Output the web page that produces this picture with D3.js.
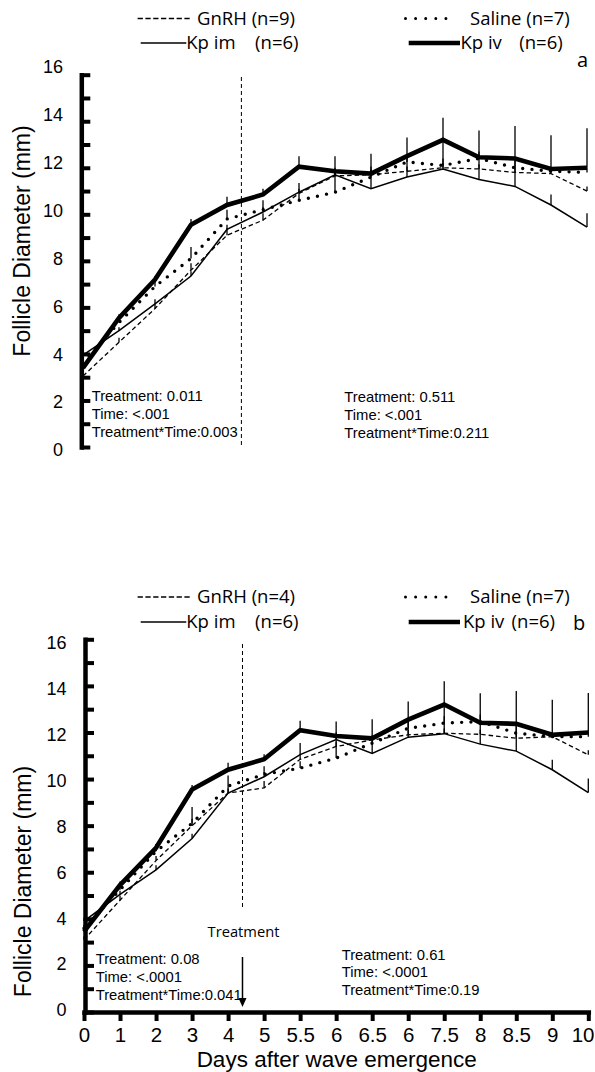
<!DOCTYPE html>
<html><head><meta charset="utf-8">
<script src="https://cdn.jsdelivr.net/npm/d3@7"></script>
<style>body{margin:0;background:#fff} svg{display:block}</style>
</head><body>
<script>
// ---------- data ----------
const xLabels = ["0","1","2","3","4","5","5.5","6","6.5","6","7.5","8","8.5","9","10"];
const yTickVals = d3.range(0, 17);
const yLabelVals = [0, 2, 4, 6, 8, 10, 12, 14, 16];
const treatmentDay = 4.4; // position on the index axis

// panel a
const gnrhA   = [3.05, 4.5, 5.95, 7.6, 9.1, 9.75, 10.9, 11.65, 11.7, 11.85, 12.0, 11.95, 11.8, 11.75, 11.0];
const salineA = [3.6, 5.35, 6.9, 8.1, 9.8, 10.2, 10.6, 10.95, 11.6, 12.25, 12.1, 12.4, 12.0, 11.85, 11.8];
const kpimA   = [3.95, 5.0, 6.15, 7.35, 9.35, 10.1, 10.95, 11.7, 11.1, 11.6, 11.95, 11.5, 11.2, 10.4, 9.45];
const kpivA   = [3.4, 5.55, 7.2, 9.55, 10.4, 10.85, 12.05, 11.85, 11.75, 12.5, 13.2, 12.45, 12.4, 11.95, 12.0];
const gnrhErrA   = [0.15, 0.2, 0.2, 0.3, 0.3, 0.3, 0.2, 0.2, 0.2, 0.2, 0.2, 0.2, 0.2, 0.2, 0.2];
const salineErrA = [0.15, 0.2, 0.35, 0.5, 0.4, 0.4, 0.3, 0.9, 0.3, 0.3, 0.3, 0.3, 0.3, 0.15, 0.2];
const kpimErrA   = [0.15, 0.15, 0.2, 0.2, 0.2, 0.2, 0.4, 0.3, 0.95, 0.9, 1.25, 0.95, 1.2, 0.45, 0.6];
const kpivErrA   = [0.15, 0.15, 0.15, 0.25, 0.35, 0.25, 0.45, 0.65, 0.85, 0.8, 0.95, 1.15, 1.4, 1.45, 1.7];
const legendA = ["GnRH (n=9)", "Saline (n=7)", "Kp im", "(n=6)", "Kp iv", "(n=6)"];
const statsALeft  = ["Treatment: 0.011", "Time: <.001", "Treatment*Time:0.003"];
const statsARight = ["Treatment: 0.511", "Time: <.001", "Treatment*Time:0.211"];

// panel b
const gnrhB   = [3.1, 4.8, 6.5, 8.0, 9.4, 9.62, 10.85, 11.4, 11.68, 11.9, 11.97, 11.92, 11.75, 11.82, 11.04];
const salineB = [3.6, 5.25, 6.9, 8.1, 9.7, 10.2, 10.47, 10.9, 11.54, 12.18, 12.4, 12.47, 11.97, 11.82, 11.82];
const kpimB   = [3.9, 5.05, 6.1, 7.45, 9.4, 10.1, 11.05, 11.7, 11.1, 11.8, 11.95, 11.5, 11.2, 10.4, 9.42];
const kpivB   = [3.45, 5.45, 7.05, 9.55, 10.4, 10.85, 12.1, 11.85, 11.75, 12.55, 13.2, 12.42, 12.37, 11.9, 12.0];
const gnrhErrB   = [0.15, 0.2, 0.2, 0.3, 0.3, 0.3, 0.2, 0.2, 0.2, 0.2, 0.2, 0.2, 0.2, 0.2, 0.2];
const salineErrB = [0.15, 0.2, 0.3, 0.7, 0.45, 0.35, 0.3, 0.9, 0.3, 0.3, 0.3, 0.3, 0.3, 0.15, 0.2];
const kpimErrB   = [0.15, 0.15, 0.2, 0.2, 0.2, 0.2, 0.5, 0.3, 0.65, 0.75, 1.25, 0.92, 1.17, 0.43, 0.6];
const kpivErrB   = [0.15, 0.15, 0.15, 0.2, 0.3, 0.22, 0.4, 0.62, 0.82, 0.78, 1.0, 1.26, 1.41, 1.5, 1.7];
const legendB = ["GnRH (n=4)", "Saline (n=7)", "Kp im", "(n=6)", "Kp iv", "(n=6)"];
const statsBLeft  = ["Treatment: 0.08", "Time: <.0001", "Treatment*Time:0.041"];
const statsBRight = ["Treatment: 0.61", "Time: <.0001", "Treatment*Time:0.19"];

const yTitle = "Follicle Diameter (mm)";
const xTitle = "Days after wave emergence";
const treatmentLabel = "Treatment";

// ---------- drawing ----------
const W = 595, H = 1072;
const svg = d3.select("body").append("svg").attr("width", W).attr("height", H);
const SANS = "'Liberation Sans', Arial, sans-serif";
const OPEN = "'Open Sans', 'Noto Sans', sans-serif";

const styles = {
  gnrh:   {w: 1.3, dash: "4.5 3", cap: "butt"},
  saline: {w: 3.4, dash: "0 9.3", cap: "round"},
  kpim:   {w: 1.5, dash: null, cap: "butt"},
  kpiv:   {w: 4.6, dash: null, cap: "butt"}
};

function drawPanel(c) {
  const g = svg.append("g");
  const x = d3.scaleLinear().domain([0, xLabels.length - 1]).range([c.x0, c.x1]);
  const y = d3.scaleLinear().domain([0, 16]).range([c.yBot, c.yTop]);
  const yLab = d3.scaleLinear().domain([0, 16]).range([c.labBot, c.labTop]);

  // y axis ticks (pointing inward)
  const ya = g.append("g").attr("transform", `translate(${c.axisX},0)`)
    .call(d3.axisRight(y).tickValues(yTickVals).tickSize(9).tickSizeOuter(0).tickFormat(""));
  ya.select(".domain").attr("stroke", "#000").attr("stroke-width", 4.5).attr("stroke-linecap", "square");
  ya.selectAll(".tick line").attr("stroke", "#000").attr("stroke-width", 4);

  // y tick labels
  const yl = g.append("g").attr("transform", `translate(${c.labRight},0)`)
    .call(d3.axisLeft(yLab).tickValues(yLabelVals).tickSize(0).tickPadding(0).tickFormat(d3.format("d")));
  yl.select(".domain").remove();
  yl.selectAll("text").attr("font-family", SANS).attr("font-size", 18).attr("fill", "#000");

  // x axis (panel b only)
  if (c.showX) {
    const xa = g.append("g").attr("transform", `translate(0,${c.yBot})`)
      .call(d3.axisBottom(x).tickValues(d3.range(xLabels.length)).tickSize(9).tickSizeOuter(0)
        .tickPadding(6).tickFormat(i => xLabels[i]));
    xa.select(".domain").attr("stroke", "#000").attr("stroke-width", 4.5).attr("stroke-linecap", "square");
    xa.selectAll(".tick line").attr("stroke", "#000").attr("stroke-width", 4);
    xa.selectAll("text").attr("font-family", SANS).attr("font-size", 20.5).attr("fill", "#000");
    // keep the last label inside the page
    xa.selectAll(".tick").filter(i => i === xLabels.length - 1).select("text")
      .attr("text-anchor", "end").attr("dx", W - 1 - x(xLabels.length - 1));
    g.append("text").attr("x", 336.7).attr("y", 1067).attr("text-anchor", "middle")
      .attr("font-family", SANS).attr("font-size", 22.5).text(xTitle);
  }

  // y title
  g.append("text").attr("transform", `translate(${c.titleX},${c.titleY}) rotate(-90)`)
    .attr("text-anchor", "middle").attr("font-family", SANS).attr("font-size", 23).text(yTitle);

  // treatment line
  g.append("line").attr("x1", x(treatmentDay)).attr("x2", x(treatmentDay))
    .attr("y1", c.tlTop).attr("y2", c.tlBot)
    .attr("stroke", "#000").attr("stroke-width", 1).attr("stroke-dasharray", "4 3");

  // series
  const series = [
    {key: "gnrh", v: c.gnrh, e: c.gnrhErr},
    {key: "saline", v: c.saline, e: c.salineErr},
    {key: "kpim", v: c.kpim, e: c.kpimErr},
    {key: "kpiv", v: c.kpiv, e: c.kpivErr}
  ];
  // error bars
  series.forEach(s => {
    g.append("g").selectAll("line").data(s.v).join("line")
      .attr("x1", (d, i) => x(i)).attr("x2", (d, i) => x(i))
      .attr("y1", d => y(d)).attr("y2", (d, i) => y(d + s.e[i]))
      .attr("stroke", "#000").attr("stroke-width", 1.3);
  });
  const line = d3.line().x((d, i) => x(i)).y(d => y(d));
  series.forEach(s => {
    const st = styles[s.key];
    g.append("path").datum(s.v).attr("d", line).attr("fill", "none")
      .attr("stroke", "#000").attr("stroke-width", st.w)
      .attr("stroke-linejoin", "miter")
      .attr("stroke-linecap", st.cap)
      .attr("stroke-dasharray", st.dash);
  });

  // legend
  const L = c.leg, r1 = c.legY1, r2 = c.legY2;
  const lg = g.append("g");
  lg.append("line").attr("x1", 137.6).attr("x2", 192).attr("y1", r1).attr("y2", r1)
    .attr("stroke", "#000").attr("stroke-width", 1.3).attr("stroke-dasharray", "5.3 2.5");
  lg.append("text").attr("x", 197).attr("y", r1 + 6.3).text(L[0]);
  lg.append("line").attr("x1", 405.5).attr("x2", 456).attr("y1", r1).attr("y2", r1)
    .attr("stroke", "#000").attr("stroke-width", 3).attr("stroke-linecap", "round").attr("stroke-dasharray", "0 10.1");
  lg.append("text").attr("x", 470).attr("y", r1 + 6.3).text(L[1]);
  lg.append("line").attr("x1", 140.7).attr("x2", 186.3).attr("y1", r2).attr("y2", r2)
    .attr("stroke", "#000").attr("stroke-width", 1.5);
  lg.append("text").attr("x", 186.3).attr("y", r2 + 6.3).text(L[2]);
  lg.append("text").attr("x", 298.5).attr("y", r2 + 6.3).attr("text-anchor", "end").text(L[3]);
  lg.append("line").attr("x1", 408.7).attr("x2", 460).attr("y1", r2).attr("y2", r2)
    .attr("stroke", "#000").attr("stroke-width", 4.5);
  lg.append("text").attr("x", c.kpivX).attr("y", r2 + 6.3).text(L[4]);
  lg.append("text").attr("x", c.kpivNEnd).attr("y", r2 + 6.3).attr("text-anchor", "end").text(L[5]);
  lg.selectAll("text").attr("font-family", OPEN).attr("font-size", 18.5).attr("fill", "#000");

  // panel letter
  g.append("text").attr("x", c.letterX).attr("y", c.letterY).attr("font-family", OPEN)
    .attr("font-size", 20).text(c.letter);

  // stats
  const st = g.append("g").attr("font-family", SANS).attr("font-size", 14.8);
  c.statsL.forEach((t, i) => st.append("text").attr("x", c.sLx).attr("y", c.sLy[i]).text(t));
  c.statsR.forEach((t, i) => st.append("text").attr("x", c.sRx).attr("y", c.sRy[i]).text(t));
  return {x, y, g};
}

drawPanel({
  x0: 83, x1: 587, yBot: 447, yTop: 74.7, labBot: 450, labTop: 67, axisX: 81.3, labRight: 63,
  showX: false, titleX: 30, titleY: 241, tlTop: 77, tlBot: 445,
  gnrh: gnrhA, saline: salineA, kpim: kpimA, kpiv: kpivA,
  gnrhErr: gnrhErrA, salineErr: salineErrA, kpimErr: kpimErrA, kpivErr: kpivErrA,
  leg: legendA, legY1: 18.5, legY2: 43, kpivX: 460.5, kpivNEnd: 562.7,
  letter: "a", letterX: 577, letterY: 67,
  statsL: statsALeft, statsR: statsARight, sLx: 91.7, sLy: [401, 418.5, 437], sRx: 344.3, sRy: [402, 419.5, 438]
});

const pb = drawPanel({
  x0: 84, x1: 588.3, yBot: 1012, yTop: 639.3, labBot: 1010, labTop: 643, axisX: 85, labRight: 66.5,
  showX: true, titleX: 31, titleY: 881.5, tlTop: 644, tlBot: 910,
  gnrh: gnrhB, saline: salineB, kpim: kpimB, kpiv: kpivB,
  gnrhErr: gnrhErrB, salineErr: salineErrB, kpimErr: kpimErrB, kpivErr: kpivErrB,
  leg: legendB, legY1: 597, legY2: 622, kpivX: 463, kpivNEnd: 555,
  letter: "b", letterX: 573, letterY: 630,
  statsL: statsBLeft, statsR: statsBRight, sLx: 95.7, sLy: [964.3, 982.3, 1000], sRx: 341.7, sRy: [959.6, 977.3, 995.3]
});

// treatment label and arrow (panel b)
const tx = pb.x(treatmentDay);
svg.append("text").attr("x", tx + 1).attr("y", 937).attr("text-anchor", "middle")
  .attr("font-family", OPEN).attr("font-size", 14.7).text(treatmentLabel);
svg.append("line").attr("x1", tx).attr("x2", tx).attr("y1", 957).attr("y2", 1000)
  .attr("stroke", "#000").attr("stroke-width", 1.5);
svg.append("path").attr("d", `M${tx - 4},998L${tx + 4},998L${tx},1007Z`).attr("fill", "#000");
</script>
</body></html>
